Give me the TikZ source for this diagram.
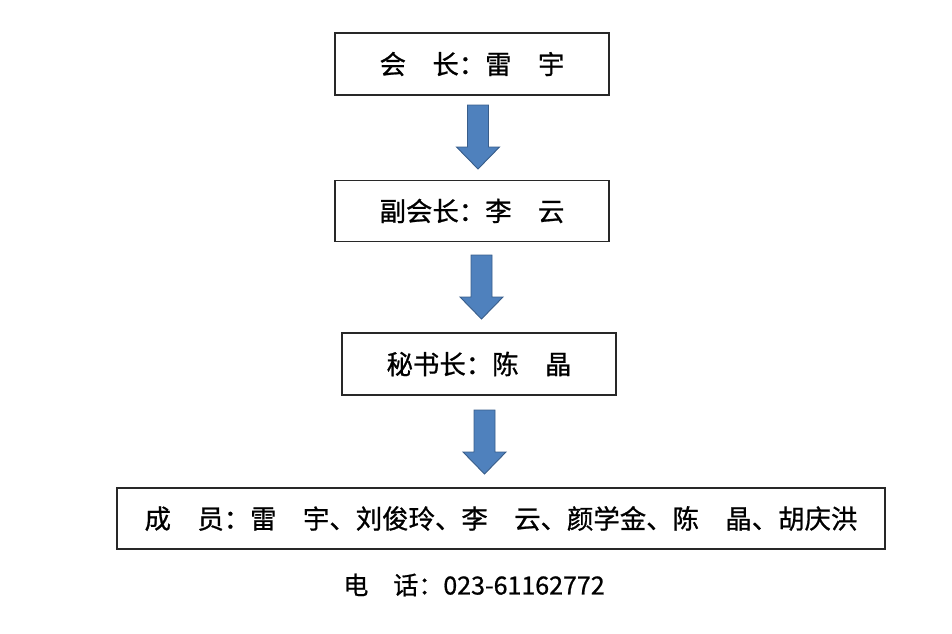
\documentclass[tikz,border=0pt]{standalone}
\usepackage{fontspec}
\setmainfont{Noto Sans CJK SC}
\newfontfamily\cjk[FakeBold=0.8]{Noto Sans CJK SC}
\definecolor{arrowfill}{RGB}{79,129,189}
\definecolor{arrowline}{RGB}{56,93,138}
\definecolor{boxline}{RGB}{40,40,40}
\begin{document}
\begin{tikzpicture}[x=1pt,y=-1pt,
  rolebox/.style={draw=boxline,line width=1.2pt,rectangle,inner sep=0pt,font=\cjk\fontsize{26.4}{26.4}\selectfont},
  plain/.style={inner sep=0pt,font=\cjk\fontsize{25}{25}\selectfont},
  blockarrow/.pic={\draw[fill=arrowfill,draw=arrowline,line width=0.9pt,line join=miter]
     (-10.5,0) -- (10.5,0) -- (10.5,42) -- (21.5,42) -- (0,64) -- (-21.5,42) -- (-10.5,42) -- cycle;}]
\useasboundingbox (0,0) rectangle (952,633);
\node[rolebox,minimum width=274,minimum height=62] (pres) at (472,64) {会　长：雷　宇};
\node[rolebox,minimum width=274,minimum height=61] (vice) at (472,211) {副会长：李　云};
\node[rolebox,minimum width=274,minimum height=62] (sec) at (479,364) {秘书长：陈　晶};
\node[rolebox,minimum width=768,minimum height=61] (mem) at (501,518.5) {成　员：雷　宇、刘俊玲、李　云、颜学金、陈　晶、胡庆洪};
\node[plain] (tel) at (474,585) {电　话：023-61162772};
\pic at (478,105) {blockarrow};
\pic at (481.5,255) {blockarrow};
\pic at (484.5,410) {blockarrow};
\end{tikzpicture}
\end{document}
